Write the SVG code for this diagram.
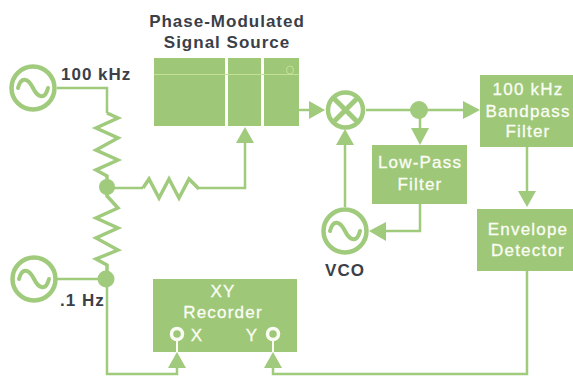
<svg xmlns="http://www.w3.org/2000/svg" width="573" height="376" viewBox="0 0 573 376">
<style>
.w{fill:none;stroke:#a0ca7c;stroke-width:2.5;stroke-linejoin:miter}
.r{fill:none;stroke:#a0ca7c;stroke-width:3.5;stroke-linejoin:miter}
.c{fill:#fff;stroke:#a0ca7c;stroke-width:4.5}
.f{fill:#a0ca7c}
.b{fill:#9ec878}
.a{fill:#a0ca7c;stroke:none}
.l{font-family:"Liberation Sans",Arial,sans-serif;font-weight:700;fill:#3b4048;font-size:17px;letter-spacing:1px}
.t{font-family:"Liberation Sans",Arial,sans-serif;fill:#fbfdf5;font-size:17px;font-weight:400;letter-spacing:1.2px;text-anchor:middle;stroke:#fbfdf5;stroke-width:.3}
.s{fill:none;stroke:#a0ca7c;stroke-width:4;stroke-linecap:round}
.o{fill:none;stroke:#fbfdf5;stroke-width:3.5}
</style>
<rect width="573" height="376" fill="#fff"/>
<g id="connectors">
<path class="w" d="M57 88H107V113"/>
<path class="r" d="M107 113L118 118L96 128L118 138L96 150L118 160L96 170L107 176V187"/>
<path class="r" d="M107 187V196L118 208L96 218L118 228L96 238L118 250L96 259L107 265V279"/>
<path class="w" d="M107 188H143"/>
<path class="r" d="M143 188L149 179L159 198L169 179L179 198L189 179L199 189"/>
<path class="w" d="M199 188H245V143"/>
<polygon class="a" points="245,127 236,143 254,143"/>
<path class="w" d="M57 279H107V374H177V368"/>
<polygon class="a" points="177,352 168,368 186,368"/>
<path class="w" d="M299 110H310"/>
<polygon class="a" points="325,110 309,101 309,119"/>
<path class="w" d="M366 110H465"/>
<polygon class="a" points="480,110 463,101 463,119"/>
<path class="w" d="M420 118V129"/>
<polygon class="a" points="420,145 411,128 429,128"/>
<path class="w" d="M345 145V207"/>
<polygon class="a" points="345,129 336,145 354,145"/>
<path class="w" d="M420 204V231H385"/>
<polygon class="a" points="369,231 386,222 386,241"/>
<path class="w" d="M527 147V192"/>
<polygon class="a" points="527,207 518,191 536,191"/>
<path class="w" d="M527 271V374H273V368"/>
<polygon class="a" points="273,352 264,368 282,368"/>
<circle class="f" cx="107" cy="187" r="8"/>
<circle class="f" cx="106" cy="279" r="8.500"/>
<circle class="f" cx="419" cy="110" r="9"/>
</g>
<g id="source-100khz">
<circle class="c" cx="33" cy="88" r="21.500"/>
<path class="s" d="M18 88C21 76 28 78 33 88S45 100 48 88"/>
<text class="l" x="61" y="80">100 kHz</text>
</g>
<g id="source-01hz">
<circle class="c" cx="34" cy="279" r="21.500"/>
<path class="s" d="M19 279C22 267 29 269 34 279S46 291 49 279"/>
<text class="l" x="60" y="306">.1 Hz</text>
</g>
<g id="signal-source">
<rect class="b" x="154" y="58" width="71" height="68"/>
<rect class="b" x="228" y="58" width="33" height="68"/>
<rect class="b" x="264" y="58" width="35" height="68"/>
<path d="M154 74.500H299" stroke="#c4e096" stroke-width="1" fill="none"/>
<ellipse cx="290" cy="70" rx="3.500" ry="4" fill="none" stroke="#c4e096" stroke-width="1"/>
<text class="l" x="227" y="27" text-anchor="middle">Phase-Modulated</text>
<text class="l" x="227" y="48" text-anchor="middle">Signal Source</text>
</g>
<g id="mixer">
<circle class="c" cx="345.500" cy="110" r="17.500"/>
<path d="M333 97.500L358 122.500M358 97.500L333 122.500" stroke="#a0ca7c" stroke-width="5" fill="none"/>
</g>
<g id="lowpass">
<rect class="b" x="372" y="145" width="95" height="59"/>
<text class="t" x="420" y="168">Low-Pass</text>
<text class="t" x="420" y="190">Filter</text>
</g>
<g id="vco">
<circle class="c" cx="345" cy="231" r="21.500"/>
<path class="s" d="M330 231C333 219 340 221 345 231S357 243 360 231"/>
<text class="l" x="345" y="276" text-anchor="middle">VCO</text>
</g>
<g id="bandpass">
<rect class="b" x="480" y="75" width="93" height="72"/>
<text class="t" x="528" y="95">100 kHz</text>
<text class="t" x="528" y="117">Bandpass</text>
<text class="t" x="528" y="137">Filter</text>
</g>
<g id="envelope">
<rect class="b" x="477" y="209" width="96" height="62"/>
<text class="t" x="528" y="235">Envelope</text>
<text class="t" x="528" y="256">Detector</text>
</g>
<g id="recorder">
<rect class="b" x="153" y="279" width="144" height="73"/>
<text class="t" x="223" y="297">XY</text>
<text class="t" x="223" y="318">Recorder</text>
<text class="t" x="197" y="341">X</text>
<text class="t" x="252" y="341">Y</text>
<circle class="o" cx="177" cy="334" r="5.500"/>
<circle class="o" cx="273" cy="334" r="5.500"/>
<path class="o" d="M177 340V352M273 340V352" style="stroke-width:2"/>
</g>
</svg>
